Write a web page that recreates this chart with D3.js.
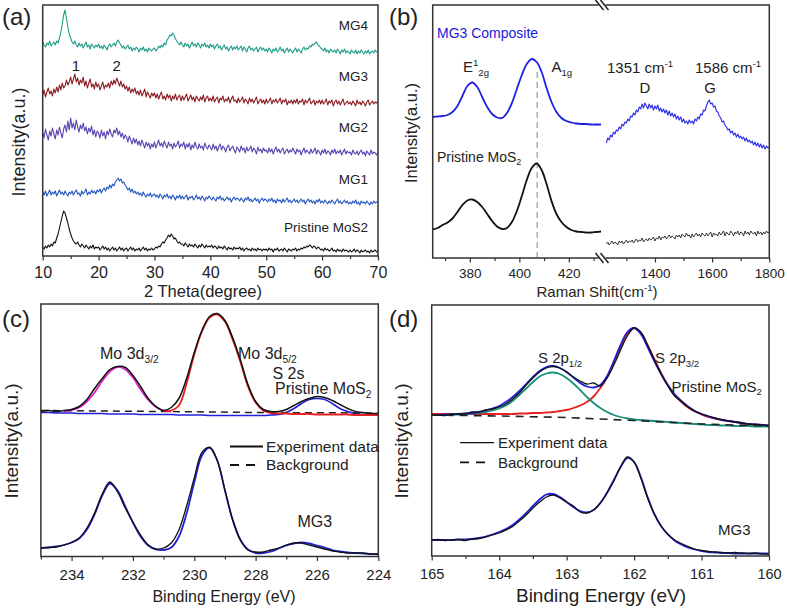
<!DOCTYPE html>
<html><head><meta charset="utf-8">
<script src="https://cdn.jsdelivr.net/npm/d3@7"></script>
<style>body{margin:0;background:#fff}svg{font-family:"Liberation Sans",Arial,sans-serif}</style>
</head><body>
<svg id="chart" width="787" height="609"></svg>
<script>
// ---------- Panel (a) XRD ----------
const thetaA = [10,10.25,10.5,10.75,11,11.25,11.5,11.75,12,12.25,12.5,12.75,13,13.25,13.5,13.75,14,14.25,14.5,14.75,
15,15.25,15.5,15.75,16,16.25,16.5,16.75,17,17.25,17.5,17.75,18,18.25,18.5,18.75,19,19.25,19.5,19.75,
20,20.25,20.5,20.75,21,21.25,21.5,21.75,22,22.25,22.5,22.75,23,23.25,23.5,23.75,24,24.25,24.5,24.75,
25,25.25,25.5,25.75,26,26.25,26.5,26.75,27,27.25,27.5,27.75,28,28.25,28.5,28.75,29,29.25,29.5,29.75,
30,30.25,30.5,30.75,31,31.25,31.5,31.75,32,32.25,32.5,32.75,33,33.25,33.5,33.75,34,34.25,34.5,34.75,
35,35.25,35.5,35.75,36,36.25,36.5,36.75,37,37.25,37.5,37.75,38,38.25,38.5,38.75,39,39.25,39.5,39.75,
40,40.25,40.5,40.75,41,41.25,41.5,41.75,42,42.25,42.5,42.75,43,43.25,43.5,43.75,44,44.25,44.5,44.75,
45,45.25,45.5,45.75,46,46.25,46.5,46.75,47,47.25,47.5,47.75,48,48.25,48.5,48.75,49,49.25,49.5,49.75,
50,50.25,50.5,50.75,51,51.25,51.5,51.75,52,52.25,52.5,52.75,53,53.25,53.5,53.75,54,54.25,54.5,54.75,
55,55.25,55.5,55.75,56,56.25,56.5,56.75,57,57.25,57.5,57.75,58,58.25,58.5,58.75,59,59.25,59.5,59.75,
60,60.25,60.5,60.75,61,61.25,61.5,61.75,62,62.25,62.5,62.75,63,63.25,63.5,63.75,64,64.25,64.5,64.75,
65,65.25,65.5,65.75,66,66.25,66.5,66.75,67,67.25,67.5,67.75,68,68.25,68.5,68.75,69,69.25,69.5,69.75,
70];
const xrdMG4 = [214,211,209,213,211,215,210,212,214,211,215,213,218,224,232,241,246,238,229,222,
218,214,212,215,211,209,213,210,212,208,211,214,209,211,207,212,210,208,211,209,
212,208,210,207,211,209,206,210,212,209,211,213,210,214,216,213,211,208,210,207,
209,211,207,209,205,208,206,209,207,204,208,206,209,205,207,204,208,206,205,207,
208,205,207,210,208,211,209,213,211,216,218,221,220,223,221,217,215,213,211,214,
211,209,213,210,212,208,211,214,210,212,209,213,211,208,212,210,213,209,211,208,
212,209,211,207,210,212,208,210,206,209,211,207,209,205,208,210,206,209,207,210,
206,208,210,205,209,207,204,208,210,206,208,205,207,209,204,207,209,206,208,205,
207,204,208,206,203,207,205,208,204,206,209,205,207,203,206,208,204,207,205,203,
206,208,204,207,205,203,207,209,206,208,207,210,209,212,211,213,214,211,210,208,
207,205,208,204,206,203,207,205,204,206,203,207,205,202,206,204,207,203,205,204,
202,206,204,203,206,202,205,203,206,204,202,205,203,206,202,204,205,203,206,204,
204];
const xrdMG3 = [161,166,159,164,168,162,165,160,167,163,169,164,171,166,173,168,170,176,171,174,
179,172,177,182,174,178,171,176,173,179,170,175,168,173,177,169,172,167,174,169,
172,166,170,174,167,171,169,173,168,175,171,176,172,178,174,170,175,169,172,167,
170,165,169,163,167,164,168,162,165,161,166,160,163,167,159,164,161,158,163,160,
163,158,162,157,161,164,157,160,156,162,158,161,155,160,157,162,156,159,161,155,
160,156,159,162,155,158,161,156,159,154,160,157,155,159,156,161,154,158,160,155,
158,155,160,154,157,159,153,158,156,160,154,157,155,159,153,157,160,155,156,153,
158,154,156,159,153,157,155,152,158,154,157,153,156,159,152,155,157,153,156,152,
157,153,155,158,152,156,154,157,153,155,158,152,156,154,157,151,155,153,156,152,
156,153,157,152,155,154,157,151,156,153,155,158,152,154,156,151,155,153,156,152,
156,152,154,157,151,155,153,156,150,154,156,152,155,151,154,157,151,153,155,152,
154,151,155,153,150,156,152,154,151,155,153,150,154,156,151,153,155,152,154,153,
155];
const xrdMG2 = [124,118,127,121,116,125,120,128,122,117,126,121,129,123,118,127,131,124,135,126,
138,128,133,126,136,129,124,131,127,133,125,129,122,128,124,130,121,126,119,125,
123,118,126,120,124,117,125,121,127,122,119,126,123,128,121,125,119,123,117,121,
119,114,120,116,112,118,113,117,111,115,110,116,112,108,114,110,113,107,112,109,
114,108,112,116,110,113,109,115,111,108,114,110,112,107,113,109,111,115,108,112,
110,114,107,112,109,113,106,111,108,114,109,107,112,108,110,106,113,109,107,111,
109,106,112,107,110,105,109,112,106,110,108,104,109,111,105,108,110,106,103,109,
107,104,110,106,108,103,109,105,107,110,104,108,106,102,109,105,107,103,108,105,
106,103,108,104,107,102,106,109,104,107,103,106,108,102,105,107,103,106,104,108,
105,102,107,104,106,101,105,108,103,106,104,102,107,103,105,108,102,106,104,101,
106,103,107,102,105,104,101,106,103,107,102,105,103,106,101,104,107,102,105,103,
104,101,106,103,102,105,101,104,106,102,104,100,105,103,101,106,102,104,103,101,
104];
const xrdMG1 = [64,61,65,60,63,66,61,64,62,65,60,63,66,62,64,61,65,62,60,64,
62,65,61,64,66,62,63,60,65,62,64,67,61,64,62,66,63,65,62,66,
64,67,63,66,68,65,69,67,71,68,72,70,74,76,78,75,77,73,74,71,
69,66,68,64,67,63,65,62,64,61,63,60,64,61,59,62,60,63,59,61,
62,59,61,58,62,60,57,61,59,62,58,60,57,61,59,56,60,58,61,57,
60,57,59,61,56,59,58,60,56,58,61,57,59,56,60,58,55,59,57,60,
58,56,59,57,55,59,57,60,56,58,55,57,59,56,58,54,57,59,56,58,
57,55,58,56,54,58,56,59,55,57,54,56,58,55,57,53,56,58,55,57,
56,54,57,55,58,54,56,53,57,55,56,53,57,54,56,58,54,56,53,55,
57,54,56,53,55,57,54,56,52,55,57,54,56,53,55,52,56,54,57,53,
55,53,56,54,52,55,53,56,54,52,55,57,53,55,52,54,56,53,55,52,
54,52,55,53,56,52,54,51,55,53,54,52,55,53,51,54,52,55,53,54,
54];
const xrdPristine = [9,7,10,8,11,9,12,10,14,13,18,22,28,34,40,45,43,38,33,27,
22,18,15,13,12,14,11,9,12,10,8,11,9,7,10,8,11,7,9,8,
9,6,8,10,7,9,6,8,5,7,9,6,8,5,7,9,6,8,5,7,
8,5,7,9,6,8,5,7,6,8,5,7,9,6,8,5,7,6,8,6,
7,9,8,10,9,12,14,13,16,18,21,19,22,20,17,18,15,13,14,12,
12,10,13,11,9,12,10,11,9,12,10,8,11,9,12,10,8,11,9,10,
9,11,8,10,9,7,10,8,9,7,10,8,6,9,7,8,6,9,7,8,
7,9,6,8,5,7,8,6,7,5,8,6,7,5,8,6,7,5,7,6,
7,5,8,6,7,4,7,6,8,5,6,7,5,8,6,4,7,6,5,7,
6,8,5,7,6,8,7,9,8,10,9,11,10,8,10,9,7,9,8,6,
7,5,8,6,7,5,6,8,5,6,4,7,5,6,4,7,5,6,5,4,
6,4,5,7,4,6,5,3,6,4,5,6,4,5,3,6,4,5,6,4,
5];
const xrdNames = ["MG4","MG3","MG2","MG1","Pristine MoS2"];
const xrdColors = ["#1f9c88","#8c1b22","#5a42b0","#2457c0","#111111"];
const xrdTicks = [10,20,30,40,50,60,70];
const xrdMinor = [15,25,35,45,55,65];

// ---------- Panel (b) Raman ----------
const ramanL = [365,367,369,371,373,375,377,379,381,383,385,387,389,391,393,395,397,399,401,403,405,407,409,411,413,415,417,419,421,423,425,427,429,431,433];
const ramanMG3L = [141,141.5,142,143,146,152,162,172,175.5,171,161,151,144,140.5,140,145,155,169,183,194,199,196,186,170,156,146,140,137,135.5,134.5,134,134,133.5,133.5,133.5];
const ramanPriL = [28.7,30,33,35.5,39.5,46,53,57.5,58.5,56,51,44,37,31.5,29,30,36,47,62,78,90,94.5,88,74,57,44,36,31,28,26.5,26,25.5,25.5,26,26.5];
const ramanR = [1230,1235,1240,1245,1250,1255,1260,1265,1270,1275,
1280,1285,1290,1295,1300,1305,1310,1315,1320,1325,
1330,1335,1340,1345,1350,1355,1360,1365,1370,1375,
1380,1385,1390,1395,1400,1405,1410,1415,1420,1425,
1430,1435,1440,1445,1450,1455,1460,1465,1470,1475,
1480,1485,1490,1495,1500,1505,1510,1515,1520,1525,
1530,1535,1540,1545,1550,1555,1560,1565,1570,1575,
1580,1585,1590,1595,1600,1605,1610,1615,1620,1625,
1630,1635,1640,1645,1650,1655,1660,1665,1670,1675,
1680,1685,1690,1695,1700,1705,1710,1715,1720,1725,
1730,1735,1740,1745,1750,1755,1760,1765,1770,1775,
1780,1785,1790,1795,1800];
const ramanMG3R = [115,120,118,123,121,126,124,128,127,131,
129,134,132,136,135,139,137,142,141,145,
143,148,146,151,149,154,150,155,152,149,
154,150,153,148,152,149,153,147,150,146,
149,145,148,143,147,142,145,141,144,139,
142,138,141,136,139,135,137,134,138,135,
137,134,139,137,141,139,144,143,148,147,
152,156,158,154,155,151,152,147,146,142,
140,136,137,133,131,128,129,125,127,123,
125,121,124,120,122,119,121,117,120,116,
118,115,117,113,116,112,115,111,114,110,
113,109,112,110,111];
const ramanPriR = [14,16,13,15,17,14,16,15,13,17,
15,17,14,16,18,15,17,16,18,15,
17,19,16,18,17,20,16,18,19,17,
20,18,19,21,17,20,19,22,18,21,
20,22,19,21,23,20,22,21,19,23,
21,23,20,24,22,21,25,22,23,20,
24,21,23,25,22,24,21,25,23,22,
25,22,24,26,21,25,23,24,22,26,
23,25,27,22,26,24,23,27,25,22,
26,24,27,23,26,25,22,27,24,26,
23,27,25,24,26,22,27,24,26,23,
26,24,27,25,26];
const ramanA1gRef = 407.2;
const ramanTicksL = [380,400,420], ramanMinorL = [370,390,410,430];
const ramanTicksR = [1400,1600,1800], ramanMinorR = [1300,1500,1700];

// ---------- Panel (c) XPS Mo 3d ----------
const beC = [235,234.75,234.5,234.25,234,233.75,233.5,233.25,233,232.75,232.5,232.25,232,231.75,231.5,231.25,231,230.75,230.5,230.25,230,229.75,229.5,229.25,229,228.75,228.5,228.25,228,227.75,227.5,227.25,227,226.75,226.5,226.25,226,225.75,225.5,225.25,225,224.75,224.5,224.25,224];
const moPriExp = [145,146,145,146,147,150,157,168,178,187,190,189,181,170,158,150,146,149,158,178,204,226,240,243,236,219,197,172,155,147,145,145,147,151,155,158,160,159,156,152,148,145,144,143,143];
const moPriBlue = [144,144,143.5,143.5,143.5,143,143,143,143,142.5,142.5,142.5,142.5,142,142,142,142,142,141.5,141.5,141.5,141.5,141,141,141,141,141,141,141,141,141.5,142,144,148,153,157,158,157,153,148,145,143,142,141.5,141.5];
const beMag = [234.25,234,233.75,233.5,233.25,233,232.75,232.5,232.25,232,231.75,231.5,231.25,231,230.75];
const moPriMag = [145.5,146.5,149,155,164,175.5,185,189.5,187,179,167,156.5,149.5,146,145];
const beRed = [231,230.75,230.5,230.25,230,229.75,229.5,229.25,229,228.75,228.5,228.25,228,227.75,227.5,227.25,227,226.75,226.5,226.25,226,225.75,225.5,225.25,225,224.75,224.5,224.25,224];
const moPriRed = [145.5,146,151,173,202,225,239,242,235,217,195,170,154,146,143.5,143,143,142.5,142.5,142.5,142,142,142,142,142,141.5,141.5,141.5,141.5];
const beBgC = [235,231,228,224];
const moPriBg = [146,145,144,143.5];
const moMG3Exp = [8.5,9,9.5,11.5,14,18.5,28.5,43.5,62.5,74.5,64.5,48.5,34.5,21.5,11.5,7.5,8.5,13.5,26.5,50.5,78.5,104,109,96,66.5,36.5,16.5,6.5,4.5,4.5,6.5,8.5,11.5,13.5,13.5,11.5,9.5,7.5,5.5,4.5,3.5,3.5,3.5,2.5,2.5];
const moMG3Fit = [8.5,9,10,11.5,14,18,27,42,61,73,66,50,34,20,11,7,6.5,9,20,43,74,101,109,96,66,37,17,7,3.5,3.5,5,8,11,13,14,13,11,9,6.5,5,4,3.5,3,2.5,2.5];
const beTicksC = [234,232,230,228,226,224], beMinorC = [235,233,231,229,227,225];

// ---------- Panel (d) XPS S 2p ----------
const beD = [165,164.9,164.8,164.7,164.6,164.5,164.4,164.3,164.2,164.1,164,163.9,163.8,163.7,163.6,163.5,163.4,163.3,163.2,163.1,163,162.9,162.8,162.7,162.6,162.5,162.4,162.3,162.2,162.1,162,161.9,161.8,161.7,161.6,161.5,161.4,161.3,161.2,161.1,161,160.9,160.8,160.7,160.6,160.5,160.4,160.3,160.2,160.1,160];
const sPriExp = [141,141,140.5,142,142,142.5,144,144,146,147,149,152,157,163,171,178,184,188,189.5,188,184,179,175,172,173,170,178,191,206,220,228,224,211,196,182,170,160,155,149,145,142,140,138,136.5,135,134,133,132,131.5,131,130];
const sPriBlue = [141,141,141.5,141.5,142,142.5,143,144,145.5,147.5,150,154,159,165,172,179,185,189,190,188,184,178.5,173,169.5,168.5,171,180,195,211,224,228,222,209,195,182,171,162,155,149.5,145,142,139.5,137.5,136,135,134,133,132,131.5,131,130.5];
const sPriTeal = [141,141,141,141.5,141.5,142,142.5,143,144,145.5,147.5,150.5,155,161,167.5,174,179.5,182.5,183.5,182,178,172.5,166,159,153,148,144,141,139,137.5,136.5,136,135.5,135,134.5,134,133.5,133,132.5,132,131.5,131,131,130.5,130.5,130,130,130,129.5,129.5,129.5];
const sPriRed = [142,142,142,142,142,142,142,142,142,142,142,142,142,142.5,142.5,143,143,143.5,144,145,146,148,150.5,154,159.5,168,179,194,209,222,228,223,211,197,183,171,161,154,148.5,144.5,141.5,139,137.5,136,135,134,133,132,131.5,131,130.5];
const beBgD = [165,164,163,162,161,160];
const sPriBg = [141,140,138.5,135.5,132,130];
const sMG3Exp = [16,16.5,15.5,16,16.5,15.5,17,17.5,19,21,23,26,29.5,35,41,48,54,59,61,58,54,50,44,43,46,53,63,75,89,99,94,78,58,42,30,22,16,12.5,9.5,7,5.5,4.5,4,3.5,3,3.5,3,2.5,3,2,2];
const sMG3Fit = [16,16,16,16,16.5,16.5,17,18,19.5,21.5,24,27,31,36.5,43,50,56.5,61.5,62,59,54,49,45,43.5,46,53,63.5,76,89,98,94,79,59,42,30,21.5,15.5,11.5,8.5,6.5,5,4,3.5,3,3,2.5,2.5,2.5,2.5,2.5,2.5];
const beTicksD = [165,164,163,162,161,160], beMinorD = [164.5,163.5,162.5,161.5,160.5];

// ================= drawing =================
const svg = d3.select("#chart");
const FONT = '"Liberation Sans", Arial, sans-serif';
const INK = "#222";

function addText(x, y, parts, o = {}) {
  const size = o.size || 14;
  const t = svg.append("text").attr("x", x).attr("y", y)
    .attr("font-size", size).attr("fill", o.color || INK)
    .attr("font-family", FONT)
    .attr("text-anchor", o.anchor || "start");
  if (o.rotate) t.attr("transform", `rotate(-90,${x},${y})`);
  let cur = 0;
  (Array.isArray(parts) ? parts : [parts]).forEach(p => {
    const [s, k] = typeof p === "string" ? [p, "n"] : p;
    const target = k === "sub" ? size * 0.25 : k === "sup" ? -size * 0.4 : 0;
    const ts = t.append("tspan").text(s).attr("dy", target - cur);
    if (k !== "n") ts.attr("font-size", size * 0.64);
    cur = target;
  });
  return t;
}

function frame(f) {
  svg.append("rect").attr("x", f.l).attr("y", f.t).attr("width", f.r - f.l).attr("height", f.b - f.t)
    .attr("fill", "none").attr("stroke", "#333").attr("stroke-width", 1.5);
}

function bottomAxis(scale, y, majors, minors, size, baseline) {
  const ax = svg.append("g").attr("transform", `translate(0,${y})`)
    .call(d3.axisBottom(scale).tickValues(majors).tickSize(4.5).tickFormat(d3.format("d")));
  ax.select(".domain").remove();
  ax.selectAll("line").attr("stroke", "#333").attr("stroke-width", 1.2);
  ax.selectAll("text").attr("y", baseline - y).attr("dy", 0).attr("font-size", size)
    .attr("font-family", FONT).attr("fill", INK);
  const mn = svg.append("g").attr("transform", `translate(0,${y})`)
    .call(d3.axisBottom(scale).tickValues(minors).tickSize(3).tickFormat(""));
  mn.select(".domain").remove();
  mn.selectAll("line").attr("stroke", "#333").attr("stroke-width", 1.2);
}

function path(xs, ys, xScale, yScale, color, width, curve, dash) {
  const line = d3.line().x((d, i) => xScale(xs[i])).y(d => yScale(d)).curve(curve || d3.curveLinear);
  const p = svg.append("path").datum(ys).attr("d", line).attr("fill", "none")
    .attr("stroke", color).attr("stroke-width", width).attr("stroke-linejoin", "round");
  if (dash) p.attr("stroke-dasharray", dash);
  return p;
}

// ----- Panel (a)
const A = {l: 42.7, r: 378, t: 5, b: 256};
const xA = d3.scaleLinear().domain([10, 70]).range([A.l, A.r]);
const yA = d3.scaleLinear().domain([0, 251]).range([A.b, A.t]);
[xrdMG4, xrdMG3, xrdMG2, xrdMG1, xrdPristine].forEach((s, i) =>
  path(thetaA, s, xA, yA, xrdColors[i], 1.1));
frame(A);
bottomAxis(xA, A.b, xrdTicks, xrdMinor, 16, 277.5);
const labY = [30.4, 80.7, 132, 183.5, 232];
xrdNames.forEach((n, i) => addText(368, labY[i], n, {size: 13.5, anchor: "end"}));
addText(76, 70.5, "1", {size: 15, anchor: "middle"});
addText(116.7, 70.5, "2", {size: 15, anchor: "middle"});
addText(203, 297, "2 Theta(degree)", {size: 16.5, anchor: "middle"});
addText(19, 142, "Intensity(a.u.)", {size: 18, anchor: "middle", rotate: true}).attr("dominant-baseline", "central");
addText(2, 25, "(a)", {size: 24});

// ----- Panel (b)
const B = {l: 432.7, r: 769.3, t: 5, b: 258, brk: 603.5};
const xBL = d3.scaleLinear().domain([365, 434]).range([B.l, B.brk]);
const xBR = d3.scaleLinear().domain([1220, 1800]).range([B.brk, B.r]);
const yB = d3.scaleLinear().domain([0, 253]).range([B.b, B.t]);
svg.append("line").attr("x1", xBL(ramanA1gRef)).attr("x2", xBL(ramanA1gRef))
  .attr("y1", yB(186)).attr("y2", yB(0)).attr("stroke", "#999").attr("stroke-width", 1.2).attr("stroke-dasharray", "6,4");
path(ramanL, ramanMG3L, xBL, yB, "#1f1fe0", 1.8, d3.curveCatmullRom);
path(ramanL, ramanPriL, xBL, yB, "#111", 1.8, d3.curveCatmullRom);
path(ramanR, ramanMG3R, xBR, yB, "#2a2ae8", 1.1);
path(ramanR, ramanPriR, xBR, yB, "#222", 0.9);
frame(B);
bottomAxis(xBL, B.b, ramanTicksL, ramanMinorL, 13.5, 278);
bottomAxis(xBR, B.b, ramanTicksR, ramanMinorR, 13.5, 278);
[B.t, B.b].forEach(yy => {
  svg.append("rect").attr("x", B.brk - 5).attr("y", yy - 1.5).attr("width", 7).attr("height", 3).attr("fill", "#fff");
  [-3, 2].forEach(dx => svg.append("line")
    .attr("x1", B.brk + dx - 5).attr("y1", yy - 5).attr("x2", B.brk + dx + 3).attr("y2", yy + 5)
    .attr("stroke", "#222").attr("stroke-width", 1.5));
});
addText(437, 38.2, "MG3 Composite", {size: 14, color: "#1a1ae0"});
addText(463, 72, ["E", ["1", "sup"], ["2g", "sub"]], {size: 15});
addText(551.5, 72, ["A", ["1g", "sub"]], {size: 15});
addText(607, 72.7, ["1351 cm", ["-1", "sup"]], {size: 15});
addText(695, 72.7, ["1586 cm", ["-1", "sup"]], {size: 15});
addText(645, 93.3, "D", {size: 15, anchor: "middle"});
addText(710, 93.3, "G", {size: 15, anchor: "middle"});
addText(437, 161.7, ["Pristine MoS", ["2", "sub"]], {size: 14});
addText(597, 297, ["Raman Shift(cm", ["-1", "sup"], ")"], {size: 15, anchor: "middle"});
addText(411, 133, "Intensity(a.u.)", {size: 16.5, anchor: "middle", rotate: true}).attr("dominant-baseline", "central");
addText(389, 25, "(b)", {size: 24});

// ----- Panel (c)
const C = {l: 40.9, r: 378.3, t: 304, b: 556.5};
const xC = d3.scaleLinear().domain([235, 224]).range([C.l, C.r]);
const yC = d3.scaleLinear().domain([0, 252.5]).range([C.b, C.t]);
const cr = d3.curveCatmullRom;
path(beC, moPriBlue, xC, yC, "#2020d8", 1.6, cr);
path(beBgC, moPriBg, xC, yC, "#222", 1.5, d3.curveLinear, "7,5");
path(beMag, moPriMag, xC, yC, "#e020c8", 1.8, cr);
path(beRed, moPriRed, xC, yC, "#e52020", 1.8, cr);
path(beC, moPriExp, xC, yC, "#111", 1.5, cr);
path(beC, moMG3Fit, xC, yC, "#2020d8", 1.8, cr);
path(beC, moMG3Exp, xC, yC, "#111", 1.3, cr);
frame(C);
bottomAxis(xC, C.b, beTicksC, beMinorC, 15, 580);
addText(100, 359, ["Mo 3d", ["3/2", "sub"]], {size: 16});
addText(238, 359, ["Mo 3d", ["5/2", "sub"]], {size: 16});
addText(272.5, 378.5, "S 2s", {size: 16});
addText(275, 394, ["Pristine MoS", ["2", "sub"]], {size: 16});
addText(297.5, 526.7, "MG3", {size: 16});
svg.append("line").attr("x1", 230).attr("x2", 263).attr("y1", 446.5).attr("y2", 446.5).attr("stroke", "#111").attr("stroke-width", 2);
svg.append("line").attr("x1", 230).attr("x2", 259).attr("y1", 465).attr("y2", 465).attr("stroke", "#111").attr("stroke-width", 2).attr("stroke-dasharray", "9,7");
addText(266, 451.8, "Experiment data", {size: 15.5});
addText(266, 470.3, "Background", {size: 15.5});
addText(224, 602, "Binding Energy (eV)", {size: 16, anchor: "middle"});
addText(11, 441, "Intensity(a.u.)", {size: 19, anchor: "middle", rotate: true}).attr("dominant-baseline", "central");
addText(2, 327, "(c)", {size: 24});

// ----- Panel (d)
const D = {l: 431.7, r: 769, t: 305, b: 556};
const xD = d3.scaleLinear().domain([165, 160]).range([D.l, D.r]);
const yD = d3.scaleLinear().domain([0, 251]).range([D.b, D.t]);
path(beD, sPriRed, xD, yD, "#e82020", 1.8, cr);
path(beD, sPriTeal, xD, yD, "#1a8f7c", 1.8, cr);
path(beD, sPriBlue, xD, yD, "#2020d8", 1.8, cr);
path(beD, sPriExp, xD, yD, "#111", 1.3, cr);
path(beBgD, sPriBg, xD, yD, "#222", 1.6, d3.curveLinear, "8,6");
path(beD, sMG3Fit, xD, yD, "#2020d8", 1.8, cr);
path(beD, sMG3Exp, xD, yD, "#111", 1.3, cr);
frame(D);
bottomAxis(xD, D.b, beTicksD, beMinorD, 14.5, 578.5);
addText(538, 363, ["S 2p", ["1/2", "sub"]], {size: 15});
addText(655, 363, ["S 2p", ["3/2", "sub"]], {size: 15});
addText(671.5, 391.7, ["Pristine MoS", ["2", "sub"]], {size: 15});
addText(718, 535, "MG3", {size: 15});
svg.append("line").attr("x1", 460).attr("x2", 494).attr("y1", 442.7).attr("y2", 442.7).attr("stroke", "#111").attr("stroke-width", 1.3);
svg.append("line").attr("x1", 460).attr("x2", 490).attr("y1", 462.3).attr("y2", 462.3).attr("stroke", "#111").attr("stroke-width", 1.8).attr("stroke-dasharray", "9,7");
addText(498, 448, "Experiment data", {size: 15});
addText(498, 467.5, "Background", {size: 15});
addText(601, 602, "Binding Energy (eV)", {size: 19, anchor: "middle"});
addText(401, 441, "Intensity(a.u.)", {size: 19, anchor: "middle", rotate: true}).attr("dominant-baseline", "central");
addText(389, 327, "(d)", {size: 24});
</script>
</body></html>
